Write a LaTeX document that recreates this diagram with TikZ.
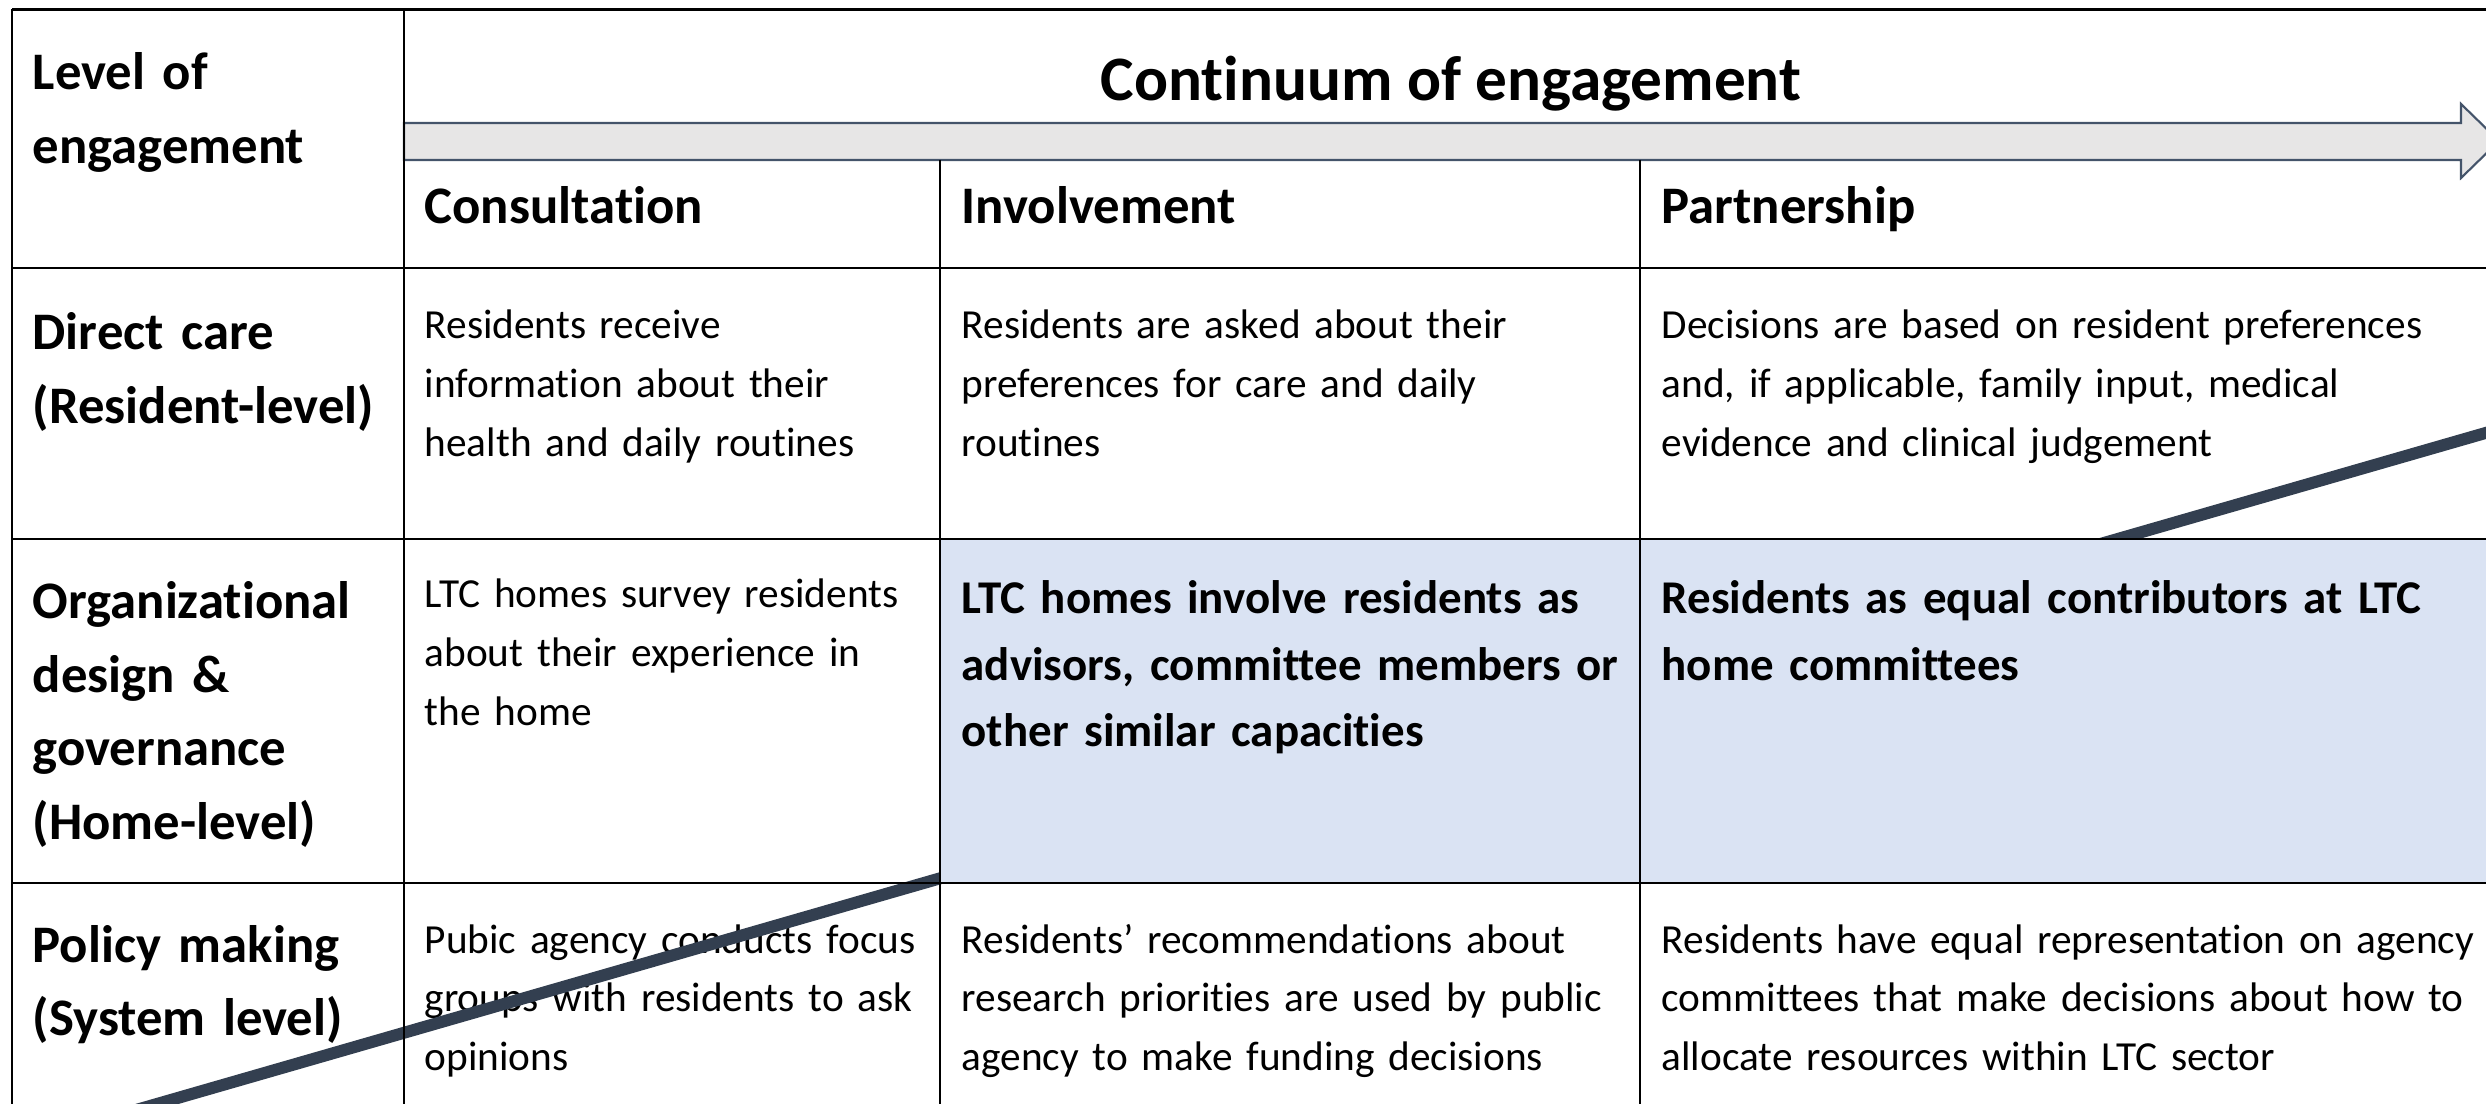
\documentclass[tikz,border=0pt]{standalone}
\usepackage{fontspec}
\setmainfont{Carlito}[Ligatures=NoCommon]
\definecolor{cellblue}{HTML}{DAE3F3}
\definecolor{arrowgray}{HTML}{E7E6E6}
\definecolor{arrowedge}{HTML}{44546A}
\definecolor{slopeline}{HTML}{333F50}
\newcommand{\bodytext}{\fontsize{11.75}{16.7}\selectfont}
\newcommand{\labeltext}{\fontsize{15}{20.9}\selectfont\bfseries}
\newcommand{\strongtext}{\fontsize{13.35}{18.8}\selectfont\bfseries}
\tikzset{
	gridline/.style={line width=0.75pt, black},
	cell/.style={anchor=base west, inner sep=0pt, align=left},
	col0/.style={cell, text width=3.7cm},
	col1/.style={cell, text width=5.1cm},
	col2/.style={cell, text width=6.8cm},
	col3/.style={cell, text width=8.25cm},
}
\begin{document}
\begin{tikzpicture}[x=0.01cm, y=-0.01cm]
			\useasboundingbox (0,0) rectangle (2486,1104);
			\clip (0,0) rectangle (2486,1104);

			\draw[fill=arrowgray, draw=arrowedge, line width=0.6pt] (404,123) -- (2461,123) -- (2461,104) -- (2499,141) -- (2461,178) -- (2461,160) -- (404,160) -- cycle;
			\node[anchor=base, inner sep=0pt, font=\fontsize{18}{22}\selectfont\bfseries] (title) at (1451,101) {Continuum of engagement};

			\begin{scope}[every node/.style={font=\labeltext}]
				\node[col0] (level) at (32,90) {Level of\\engagement};
				\node[col1] (consult) at (424,224) {Consultation};
				\node[col2] (involve) at (961,224) {Involvement};
				\node[col3] (partner) at (1661,224) {Partnership};
				\node[col0] (direct) at (32,350) {Direct care\\(Resident-level)};
				\node[col0] (organ) at (32,619) {Organizational\\design \&\\governance\\(Home-level)};
				\node[col0] (policy) at (32,962) {Policy making\\(System level)};
			\end{scope}

			\begin{scope}[every node/.style={font=\bodytext}]
				\node[col1] (direct-c) at (424,339) {Residents receive\\information about their\\health and daily routines};
				\node[col2] (direct-i) at (961,339) {Residents are asked about their\\preferences for care and daily\\routines};
				\node[col3] (direct-p) at (1661,339) {Decisions are based on resident preferences\\and, if applicable, family input, medical\\evidence and clinical judgement};
				\node[col1] (organ-c) at (424,608) {LTC homes survey residents\\about their experience in\\the home};
				\node[col1] (policy-c) at (424,953) {Pubic agency conducts focus\\groups with residents to ask\\opinions};
				\node[col2] (policy-i) at (961,953) {Residents’ recommendations about\\research priorities are used by public\\agency to make funding decisions};
				\node[col3] (policy-p) at (1661,953) {Residents have equal representation on agency\\committees that make decisions about how to\\allocate resources within LTC sector};
			\end{scope}

			\coordinate (slope-lo) at (-100,1178);
			\coordinate (slope-hi) at (2600,400);
			\draw[slopeline, line width=3.4pt] (slope-lo) -- (slope-hi);

			\fill[cellblue] (940,539) rectangle (2500,883);

			\begin{scope}[every node/.style={font=\strongtext}]
				\node[col2] (organ-i) at (961,614) {LTC homes involve residents as\\advisors, committee members or\\other similar capacities};
				\node[col3] (organ-p) at (1661,614) {Residents as equal contributors at LTC\\home committees};
			\end{scope}

			\begin{scope}[gridline]
				\draw (12,9.5) -- (2500,9.5);
				\draw (12,268) -- (2500,268);
				\draw (12,539) -- (2500,539);
				\draw (12,883) -- (2500,883);
				\draw (12,9.5) -- (12,1110);
				\draw (404,9.5) -- (404,1110);
				\draw (940,160) -- (940,1110);
				\draw (1640,160) -- (1640,1110);
			\end{scope}
		\end{tikzpicture}
\end{document}
